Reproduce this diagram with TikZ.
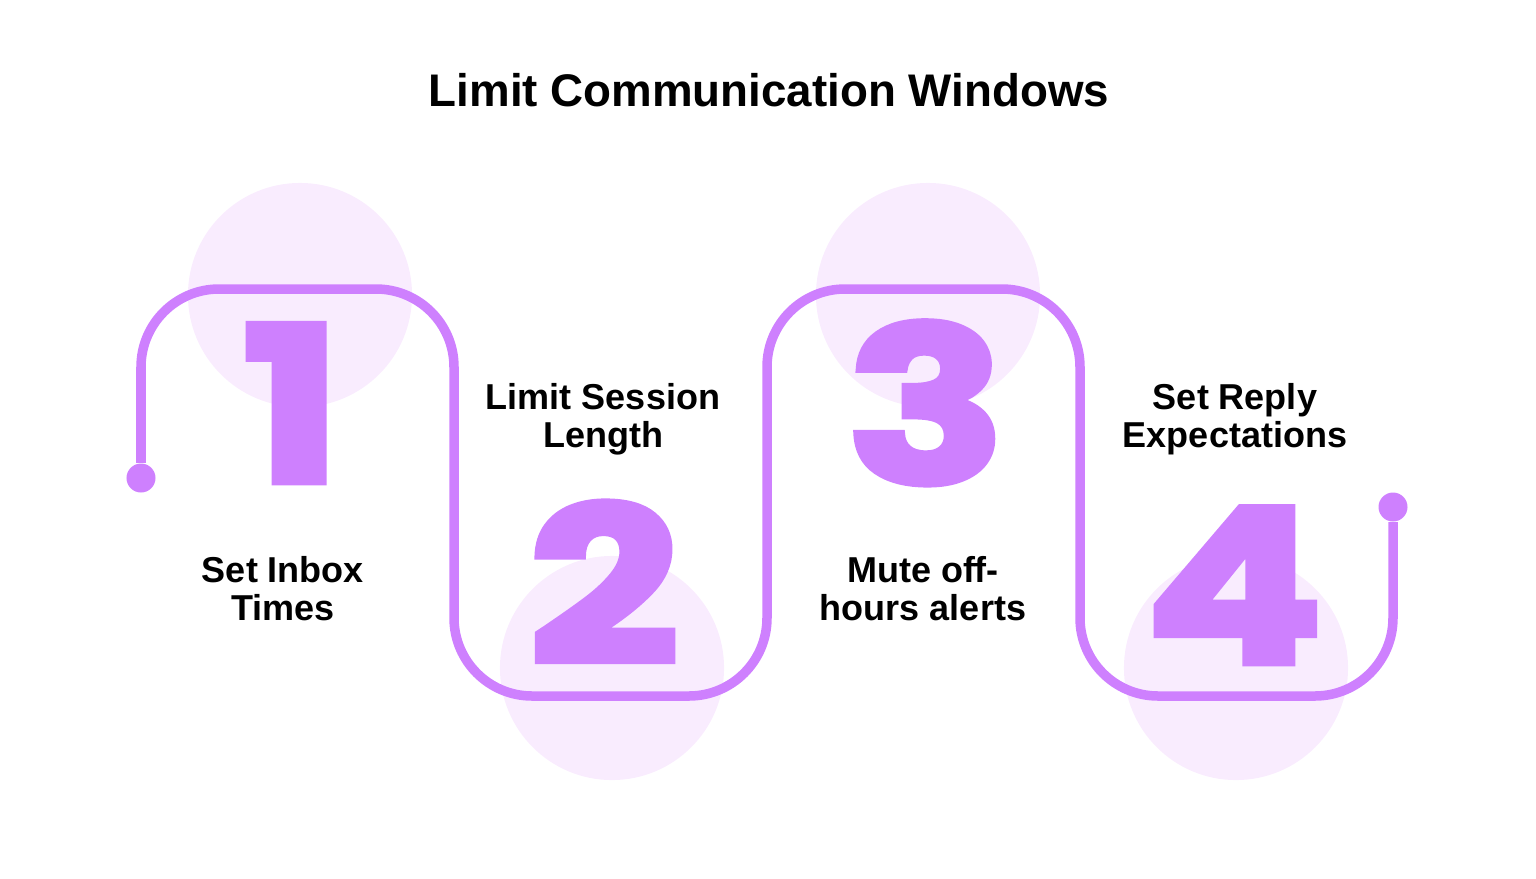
\documentclass[tikz,border=0pt]{standalone}
\usepackage{fontspec}
\setmainfont{Liberation Sans}
\newfontfamily\numfont{Poppins}[BoldFeatures={FakeBold=3}]
\usetikzlibrary{positioning}

\definecolor{trackviolet}{HTML}{CE80FE}
\definecolor{halopink}{HTML}{F9ECFE}

% wide digits for the step numbers
\newcommand{\widedigit}[1]{\scalebox{1.22}[1]{#1}}

\begin{document}
\begin{tikzpicture}[
    x=0.01cm, y=-0.01cm,
    % Pale disc behind each number
    halo/.style={
        circle,
        fill=halopink,
        minimum size=2.24cm,
        inner sep=0pt
    },
    % Dot at each end of the track
    enddot/.style={
        circle,
        fill=trackviolet,
        minimum size=0.29cm,
        inner sep=0pt
    },
    % Track style - thick line with round bends
    track/.style={
        draw=trackviolet,
        line width=0.095cm,
        rounded corners=0.78cm
    },
    % Big number style
    bignum/.style={
        anchor=base,
        inner sep=0pt,
        text=trackviolet,
        font=\numfont\bfseries\fontsize{61.5pt}{61.5pt}\selectfont
    },
    % Step label style
    lbl/.style={
        align=center,
        inner sep=0pt,
        font=\bfseries\fontsize{10.24pt}{10.8pt}\selectfont
    },
    % Heading style
    heading/.style={
        inner sep=0pt,
        font=\bfseries\fontsize{13pt}{15pt}\selectfont
    }
]
\useasboundingbox (0,0) rectangle (1536,878);

% === Title ===
\node[heading] (title) at (769, 90) {Limit Communication Windows};

% === Pale discs ===
\node[halo] (halo1) at (300, 295) {};
\node[halo] (halo2) at (612, 668) {};
\node[halo] (halo3) at (928, 295) {};
\node[halo] (halo4) at (1236, 668) {};

% === Track ===
\node[enddot] (dotA) at (141, 478) {};
\node[enddot] (dotB) at (1393, 507) {};
\coordinate (c1) at (141, 289);
\coordinate (c2) at (454, 289);
\coordinate (c3) at (454, 696);
\coordinate (c4) at (767, 696);
\coordinate (c5) at (767, 289);
\coordinate (c6) at (1080, 289);
\coordinate (c7) at (1080, 696);
\coordinate (c8) at (1393, 696);
\draw[track] (dotA) -- (c1) -- (c2) -- (c3) -- (c4) -- (c5) -- (c6) -- (c7) -- (c8) -- (dotB);

% === Numbers ===
\node[bignum] (num1) at (292, 482) {\widedigit{1}};
\node[bignum] (num2) at (604, 663) {\widedigit{2}};
\node[bignum] (num3) at (926, 483) {\widedigit{3}};
\node[bignum] (num4) at (1234, 663) {\widedigit{4}};

% === Labels ===
\node[lbl] (lbl1) at (283, 589) {Set Inbox\\Times};
\node[lbl] (lbl2) at (603, 419) {Limit Session\\Length};
\node[lbl] (lbl3) at (923, 589) {Mute off-\\hours alerts};
\node[lbl] (lbl4) at (1235, 419) {Set Reply\\Expectations};

\end{tikzpicture}
\end{document}
